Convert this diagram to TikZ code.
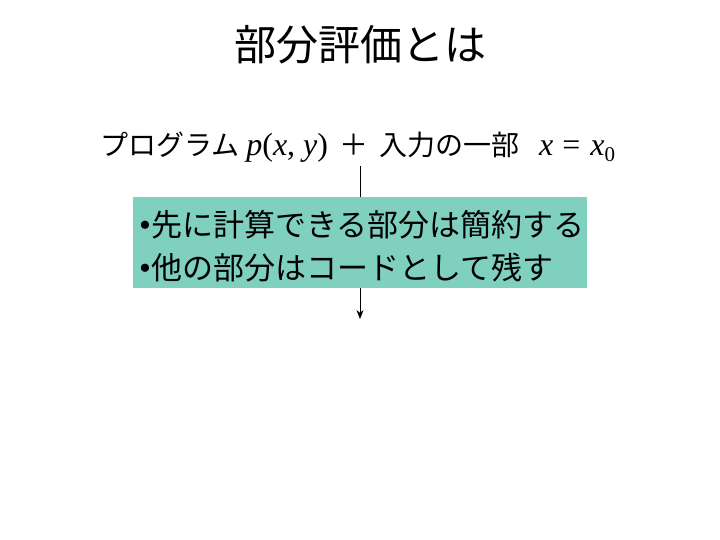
\documentclass[tikz,border=0pt]{standalone}
\usepackage{fontspec}
\setmainfont{Liberation Serif}
\newfontfamily\jp{Noto Sans CJK JP}
\newfontfamily\lat{Liberation Serif}
\usetikzlibrary{arrows.meta}
\definecolor{boxfill}{RGB}{128,208,192}
\tikzset{
  jptext/.style={inner sep=0pt},
  hatchbox/.style={fill=boxfill, draw=none, inner sep=0pt},
  flow/.style={line width=0.8bp, -{Stealth[length=9bp,width=7bp]}}
}
\begin{document}
\begin{tikzpicture}[x=1bp,y=-1bp]
\useasboundingbox (0,0) rectangle (720,540);
\node[jptext, font=\jp\fontsize{42bp}{46bp}\selectfont] (title) at (360,45) {部分評価とは};
\node[jptext, anchor=base west] (input) at (100,156)
  {{\jp\fontsize{28bp}{32bp}\selectfont プログラム}\hspace{7bp}{\lat\fontsize{32bp}{36bp}\selectfont\itshape p\upshape(\itshape x\upshape, \itshape y\upshape)}\hspace{11bp}{\jp\fontsize{29bp}{32bp}\selectfont ＋}\hspace{11bp}{\jp\fontsize{28bp}{32bp}\selectfont 入力の一部}\hspace{20bp}{\lat\fontsize{32bp}{36bp}\selectfont\itshape x\hspace{9bp}\upshape=\hspace{10bp}\itshape x\upshape\raisebox{-6bp}{\fontsize{21bp}{24bp}\selectfont 0}}};
\coordinate (start) at (360,166);
\coordinate (stop) at (360,319);
\draw[flow] (start) -- (stop);
\node[hatchbox, minimum width=454bp, minimum height=91bp] (box) at (360,242.5) {};
\node[jptext, anchor=west] (l1) at (139,225)
  {{\lat\fontsize{34bp}{34bp}\selectfont\textbullet}{\jp\fontsize{31bp}{34bp}\selectfont 先に計算できる部分は簡約する}};
\node[jptext, anchor=west] (l2) at (139,268)
  {{\lat\fontsize{34bp}{34bp}\selectfont\textbullet}{\jp\fontsize{31bp}{34bp}\selectfont 他の部分はコードとして残す}};
\end{tikzpicture}
\end{document}
